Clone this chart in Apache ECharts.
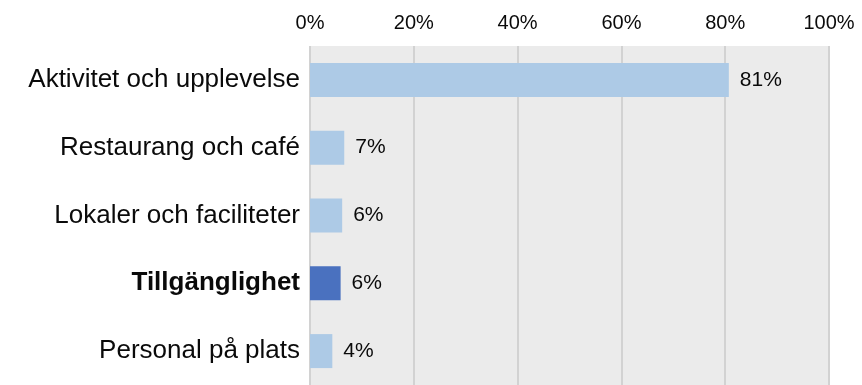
<!DOCTYPE html>
<html>
<head>
<meta charset="utf-8">
<script src="https://cdn.jsdelivr.net/npm/echarts@6/dist/echarts.min.js"></script>
<style>
html,body{margin:0;padding:0;background:#ffffff;}
#chart{width:862px;height:385px;}
</style>
</head>
<body>
<div id="chart"></div>
<script>
const categories = ["Aktivitet och upplevelse", "Restaurang och café", "Lokaler och faciliteter", "Tillgänglighet", "Personal på plats"];
const values = [80.7, 6.6, 6.2, 5.9, 4.3];
const highlighted = ["Tillgänglighet"];
const xTicks = [0, 20, 40, 60, 80, 100];

const LIGHT = "#adcae6";
const DARK = "#4a71bf";
const FONT = "Liberation Sans, Arial, sans-serif";

const chart = echarts.init(document.getElementById("chart"), null, {renderer: "canvas"});
chart.setOption({
  animation: false,
  grid: {
    left: 310, right: 33, top: 46, bottom: -5,
    show: true, backgroundColor: "#ebebeb", borderWidth: 0
  },
  xAxis: {
    type: "value", position: "top",
    min: xTicks[0], max: xTicks[xTicks.length - 1], interval: xTicks[1] - xTicks[0],
    axisLine: {show: false},
    axisTick: {show: false},
    axisLabel: {formatter: "{value}%", fontSize: 20, color: "#0a0a0a", fontFamily: FONT, margin: 13},
    splitLine: {show: true, lineStyle: {color: "#d2d2d2", width: 2}}
  },
  yAxis: {
    type: "category", data: categories, inverse: true,
    axisLine: {show: false},
    axisTick: {show: false},
    axisLabel: {
      fontSize: 26, color: "#0a0a0a", fontFamily: FONT, margin: 10,
      formatter: function (v) { return highlighted.indexOf(v) >= 0 ? "{b|" + v + "}" : v; },
      rich: {b: {fontWeight: "bold", fontSize: 26, color: "#0a0a0a", fontFamily: FONT}}
    }
  },
  series: [{
    type: "bar",
    barWidth: 34,
    data: values.map(function (v, i) {
      return {value: v, itemStyle: {color: highlighted.indexOf(categories[i]) >= 0 ? DARK : LIGHT}};
    }),
    label: {
      show: true, position: "right", distance: 11,
      fontSize: 21, color: "#0a0a0a", fontFamily: FONT,
      formatter: function (p) { return Math.round(p.value) + "%"; }
    }
  }]
});
</script>
</body>
</html>
